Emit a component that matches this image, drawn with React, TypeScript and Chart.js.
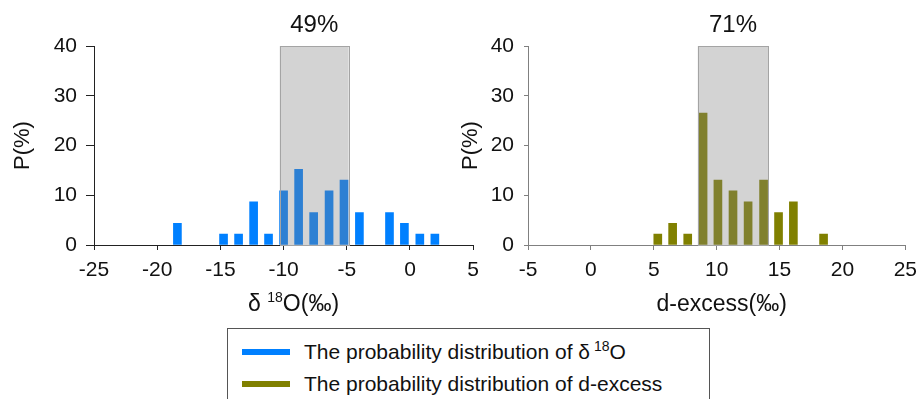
import React, { useEffect, useRef } from 'react';
import { Chart, registerables } from 'chart.js';

Chart.register(...registerables);

// ---- data ----
const d18OBinCenters = [-18.4, -14.75, -13.56, -12.37, -11.19, -10.0, -8.81, -7.62, -6.4, -5.22, -4.0, -1.62, -0.44, 0.78, 1.97];
const d18OProbability = [4.35, 2.17, 2.17, 8.7, 2.17, 10.87, 15.2, 6.52, 10.87, 13.04, 6.52, 6.52, 4.35, 2.17, 2.17];
const dExcessBinCenters = [5.32, 6.5, 7.7, 8.92, 10.1, 11.3, 12.5, 13.73, 14.92, 16.1, 18.5];
const dExcessProbability = [2.17, 4.35, 2.17, 26.5, 13.04, 10.87, 8.7, 13.04, 6.52, 8.7, 2.17];

const d18ORange = [-10.3, -4.85];
const dExcessRange = [8.5, 14.1];
const d18OShare = '49%';
const dExcessShare = '71%';

const d18OTicks = [-25, -20, -15, -10, -5, 0, 5];
const dExcessTicks = [-5, 0, 5, 10, 15, 20, 25];
const probabilityTicks = [0, 10, 20, 30, 40];

const FONT = '"Liberation Sans", Arial, Helvetica, sans-serif';
const BLUE = '#0080ff';
const OLIVE = '#808000';

type Seg = { text: string; size: number; rise?: number };

const d18OTitle: Seg[] = [
  { text: 'δ ', size: 23 },
  { text: '18', size: 14, rise: 9 },
  { text: 'O(‰)', size: 23 },
];
const dExcessTitle: Seg[] = [{ text: 'd-excess(‰)', size: 23 }];

const overlayPlugin = {
  id: 'overlay',
  afterDatasetsDraw(chart: any, _args: any, opts: any) {
    const { ctx, scales } = chart;
    const xs = scales.x;
    const ys = scales.y;
    const x1 = xs.getPixelForValue(opts.range[0]);
    const x2 = xs.getPixelForValue(opts.range[1]);
    const yt = ys.getPixelForValue(ys.max);
    const yb = ys.getPixelForValue(0);
    ctx.save();
    ctx.fillStyle = 'rgba(128,128,128,0.35)';
    ctx.fillRect(x1, yt, x2 - x1, yb - yt);
    ctx.strokeStyle = '#a4a4a4';
    ctx.lineWidth = 1;
    ctx.strokeRect(Math.round(x1) + 0.5, Math.round(yt) + 0.5, Math.round(x2 - x1), Math.round(yb - yt));
    ctx.fillStyle = '#111';
    ctx.font = `24px ${FONT}`;
    ctx.textAlign = 'center';
    ctx.textBaseline = 'middle';
    ctx.fillText(opts.share, (x1 + x2) / 2, yt - 21);
    ctx.restore();
  },
  afterDraw(chart: any, _args: any, opts: any) {
    const { ctx, chartArea } = chart;
    const segs: Seg[] = opts.title;
    ctx.save();
    ctx.fillStyle = '#111';
    ctx.textBaseline = 'alphabetic';
    ctx.textAlign = 'left';
    let total = 0;
    const widths = segs.map((s) => {
      ctx.font = `${s.size}px ${FONT}`;
      const w = ctx.measureText(s.text).width;
      total += w;
      return w;
    });
    const cx = (chartArea.left + chartArea.right) / 2 + opts.titleShift;
    let x = cx - total / 2;
    const base = chartArea.bottom + 66;
    segs.forEach((s, i) => {
      ctx.font = `${s.size}px ${FONT}`;
      ctx.fillText(s.text, x, base - (s.rise || 0));
      x += widths[i];
    });
    ctx.restore();
  },
};

function makeConfig(p: {
  xs: number[];
  ys: number[];
  color: string;
  ticks: number[];
  range: number[];
  share: string;
  title: Seg[];
  titleShift: number;
  axisColor: string;
  yWidth: number;
  yTickLen: number;
  yTickPad: number;
  yTitlePad: number;
  rightPad: number;
}): any {
  return {
    type: 'bar',
    data: {
      datasets: [
        {
          data: p.xs.map((x, i) => ({ x, y: p.ys[i] })),
          backgroundColor: p.color,
          borderWidth: 0,
          barThickness: 8,
        },
      ],
    },
    plugins: [overlayPlugin],
    options: {
      animation: false,
      responsive: false,
      maintainAspectRatio: false,
      layout: { padding: { left: 0, right: p.rightPad, top: 46, bottom: 0 } },
      plugins: {
        legend: { display: false },
        tooltip: { enabled: false },
        overlay: { range: p.range, share: p.share, title: p.title, titleShift: p.titleShift },
      },
      scales: {
        x: {
          type: 'linear',
          offset: false,
          min: p.ticks[0],
          max: p.ticks[p.ticks.length - 1],
          afterBuildTicks: (scale: any) => {
            scale.ticks = p.ticks.map((v) => ({ value: v }));
          },
          afterFit: (scale: any) => {
            scale.height = 75;
          },
          grid: {
            display: true,
            drawOnChartArea: false,
            drawTicks: true,
            tickLength: 5,
            color: p.axisColor,
            offset: false,
          },
          border: { display: true, color: p.axisColor, width: 1 },
          ticks: {
            color: '#111',
            font: { family: FONT, size: 21 },
            padding: 8,
            maxRotation: 0,
            autoSkip: false,
          },
          title: { display: false },
        },
        y: {
          type: 'linear',
          min: probabilityTicks[0],
          max: probabilityTicks[probabilityTicks.length - 1],
          afterBuildTicks: (scale: any) => {
            scale.ticks = probabilityTicks.map((v) => ({ value: v }));
          },
          afterFit: (scale: any) => {
            scale.width = p.yWidth;
          },
          grid: {
            display: true,
            drawOnChartArea: false,
            drawTicks: true,
            tickLength: p.yTickLen,
            color: p.axisColor,
          },
          border: { display: true, color: p.axisColor, width: 1 },
          ticks: {
            color: '#111',
            font: { family: FONT, size: 21 },
            padding: p.yTickPad,
          },
          title: {
            display: true,
            text: 'P(%)',
            color: '#111',
            font: { family: FONT, size: 22 },
            padding: { top: p.yTitlePad, bottom: 0 },
          },
        },
      },
    },
  };
}

function Panel({ left, width, config }: { left: number; width: number; config: any }) {
  const ref = useRef<HTMLCanvasElement | null>(null);
  useEffect(() => {
    if (!ref.current) return;
    const chart = new Chart(ref.current, config);
    return () => chart.destroy();
  }, []);
  return (
    <canvas
      ref={ref}
      width={width}
      height={320}
      style={{ position: 'absolute', left, top: 0, width, height: 320 }}
    />
  );
}

export default function App() {
  const leftCfg = makeConfig({
    xs: d18OBinCenters,
    ys: d18OProbability,
    color: BLUE,
    ticks: d18OTicks,
    range: d18ORange,
    share: d18OShare,
    title: d18OTitle,
    titleShift: 10,
    axisColor: '#222',
    yWidth: 94,
    yTickLen: 8,
    yTickPad: 9,
    yTitlePad: 10,
    rightPad: 1,
  });
  const rightCfg = makeConfig({
    xs: dExcessBinCenters,
    ys: dExcessProbability,
    color: OLIVE,
    ticks: dExcessTicks,
    range: dExcessRange,
    share: dExcessShare,
    title: dExcessTitle,
    titleShift: 5,
    axisColor: '#808080',
    yWidth: 88,
    yTickLen: 4,
    yTickPad: 10,
    yTitlePad: 18,
    rightPad: 3,
  });

  const legendItems = [
    { color: BLUE, label: <>The probability distribution of δ<sup style={{ fontSize: 14, verticalAlign: 0, position: 'relative', top: -8, marginLeft: 4 }}>18</sup>O</> },
    { color: OLIVE, label: <>The probability distribution of d-excess</> },
  ];

  return (
    <div
      style={{
        position: 'fixed',
        left: 0,
        top: 0,
        width: 917,
        height: 399,
        overflow: 'hidden',
        background: '#fff',
        fontFamily: FONT,
      }}
    >
      <Panel left={0} width={487} config={leftCfg} />
      <Panel left={440} width={485} config={rightCfg} />
      <div
        style={{
          position: 'absolute',
          left: 227,
          top: 328,
          width: 483,
          height: 90,
          border: '1px solid #555',
          boxSizing: 'border-box',
        }}
      >
        {legendItems.map((it, i) => (
          <div
            key={i}
            style={{
              position: 'absolute',
              left: 14,
              top: 10 + i * 32,
              height: 26,
              display: 'flex',
              alignItems: 'center',
              fontSize: 21,
              color: '#111',
              whiteSpace: 'nowrap',
            }}
          >
            <span style={{ display: 'inline-block', width: 48, height: 6, background: it.color, marginRight: 14 }} />
            <span>{it.label}</span>
          </div>
        ))}
      </div>
    </div>
  );
}
